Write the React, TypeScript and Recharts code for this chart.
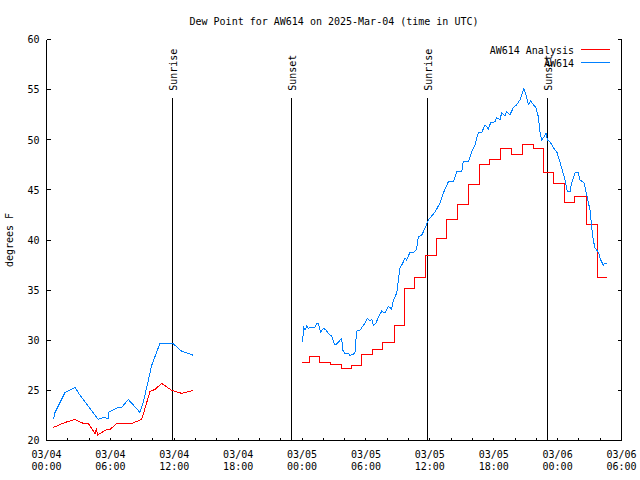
import React from 'react';
import { LineChart, Line, XAxis, YAxis, ReferenceLine, Legend } from 'recharts';

const chartTitle = 'Dew Point for AW614 on 2025-Mar-04 (time in UTC)';
const yAxisTitle = 'degrees F';
const analysisName = 'AW614 Analysis';
const observedName = 'AW614';
const legendOrder = [analysisName, observedName];

// x axis: hours since 03/04 00:00 UTC
const xTickHours = [0, 2, 4, 6, 8, 10, 12, 14, 16, 18, 20, 22, 24, 26, 28, 30, 32, 34, 36, 38, 40, 42, 44, 46, 48, 50, 52, 54];
const xLabelHours = [0, 6, 12, 18, 24, 30, 36, 42, 48, 54];
const xLabelDates = ['03/04', '03/04', '03/04', '03/04', '03/05', '03/05', '03/05', '03/05', '03/06', '03/06'];
const xLabelTimes = ['00:00', '06:00', '12:00', '18:00', '00:00', '06:00', '12:00', '18:00', '00:00', '06:00'];
const yTicks = [20, 25, 30, 35, 40, 45, 50, 55, 60];

const sunEventHours = [11.86, 23.05, 35.79, 47.07];
const sunEventLabels = ['Sunrise', 'Sunset', 'Sunrise', 'Sunset'];

// AW614 Analysis (red)
const analysisDay1Hours = [0.64, 1.74, 2.68, 3.46, 3.93, 4.56, 4.7, 4.78, 5.02, 5.65, 5.96, 6.59, 8.0, 8.94, 9.72, 10.19, 10.82, 11.76, 12.7, 13.79];
const analysisDay1Values = [21.3, 21.8, 22.1, 21.7, 21.7, 20.7, 21.2, 20.5, 20.7, 21.1, 21.1, 21.7, 21.7, 22.1, 24.9, 25.1, 25.7, 25.0, 24.7, 25.0];
const analysisDay2Hours = [24.02, 24.7, 25.64, 26.65, 27.66, 28.6, 29.6, 30.57, 31.6, 32.64, 33.64, 34.58, 35.58, 36.61, 37.61, 38.62, 39.61, 40.71, 41.62, 42.66, 43.65, 44.69, 45.72, 46.66, 47.66, 48.63, 49.63, 50.7, 51.73, 52.67];
const analysisDay2Values = [27.8, 28.4, 27.8, 27.6, 27.2, 27.5, 28.6, 29.1, 29.8, 31.5, 35.2, 36.3, 38.5, 40.1, 42.0, 43.5, 45.5, 47.5, 48.0, 49.1, 48.5, 49.5, 49.1, 46.7, 45.6, 43.7, 44.3, 41.5, 36.3, 36.3];

// AW614 observed (blue)
const observedDay1Hours = [0.64, 0.8, 1.74, 2.68, 3.15, 4.86, 5.33, 5.8, 5.82, 6.74, 7.06, 7.68, 8.78, 9.09, 9.88, 10.66, 11.85, 12.7, 13.79];
const observedDay1Values = [22.1, 22.8, 24.8, 25.3, 24.5, 22.1, 22.3, 22.2, 22.8, 23.3, 23.3, 24.1, 22.8, 23.8, 27.5, 29.7, 29.7, 28.9, 28.5];
const observedDay2Hours = [
  24.07, 24.12, 24.28, 24.44, 24.59, 24.81, 25.22, 25.38, 25.53, 25.75, 26.0, 26.25, 26.47, 26.78, 27.09, 27.4, 27.72, 27.82, 28.03, 28.34,
  28.5, 28.81, 28.97, 29.13, 29.44, 29.7, 29.91, 30.13, 30.38, 30.54, 30.69, 30.94, 31.16, 31.48, 31.79, 32.1, 32.42, 32.57, 32.89, 33.04,
  33.2, 33.51, 33.67, 33.83, 34.14, 34.39, 34.7, 34.82, 34.92, 35.24, 35.39, 35.71, 35.86, 36.49, 36.96, 37.27, 37.74, 38.2, 38.36, 38.52,
  38.99, 39.14, 39.61, 39.93, 40.24, 40.55, 40.87, 41.18, 41.49, 41.72, 42.12, 42.28, 42.59, 42.75, 43.06, 43.22, 43.53, 43.84, 44.16, 44.47,
  44.84, 45.03, 45.25, 45.47, 45.72, 45.97, 46.19, 46.35, 46.51, 46.72, 46.91, 47.03, 47.29, 47.6, 47.92, 48.16, 48.38, 48.69, 48.91, 49.16,
  49.32, 49.63, 49.94, 50.1, 50.48, 50.73, 51.04, 51.2, 51.35, 51.51, 51.82, 52.05, 52.29, 52.45, 52.67,
];
const observedDay2Values = [
  29.8, 31.4, 31.0, 31.4, 31.2, 31.3, 31.3, 31.7, 31.7, 30.8, 31.2, 31.0, 30.7, 30.4, 29.5, 29.8, 30.2, 29.0, 28.7, 28.7,
  28.5, 28.6, 28.8, 30.9, 31.0, 31.4, 31.7, 32.2, 31.9, 32.1, 31.5, 31.7, 32.3, 32.9, 32.7, 33.4, 33.1, 34.0, 34.7, 36.0,
  37.2, 37.8, 38.2, 38.0, 38.8, 38.7, 39.0, 39.5, 40.3, 40.5, 40.8, 41.6, 42.0, 42.8, 43.7, 44.7, 45.8, 45.8, 46.3, 46.8,
  46.8, 47.8, 47.8, 48.8, 49.5, 50.7, 50.7, 51.5, 51.1, 51.7, 51.8, 52.2, 52.0, 52.7, 52.4, 52.8, 52.5, 53.2, 53.5, 54.0,
  55.1, 54.5, 53.5, 53.9, 53.5, 53.2, 52.3, 50.7, 50.0, 50.3, 50.7, 50.0, 49.8, 49.2, 48.8, 48.0, 47.2, 46.0, 44.8, 44.8,
  45.7, 46.7, 46.7, 46.0, 45.7, 44.5, 43.0, 41.3, 40.0, 39.2, 38.8, 38.0, 37.5, 37.7, 37.7,
];

const toPoints = (hours: number[], values: number[]) => hours.map((h, i) => ({ h, v: values[i] }));

const analysisDay1 = toPoints(analysisDay1Hours, analysisDay1Values);
const analysisDay2 = toPoints(analysisDay2Hours, analysisDay2Values);
const observedDay1 = toPoints(observedDay1Hours, observedDay1Values);
const observedDay2 = toPoints(observedDay2Hours, observedDay2Values);

const FONT = "'DejaVu Sans Mono', 'Liberation Mono', monospace";
const RED = '#ff0000';
const BLUE = '#0080ff';
const SUN_LINE_TOP = 54.15;

const BottomTick = (props: any) => {
  const { x, y, payload } = props;
  const idx = xLabelHours.indexOf(payload.value);
  return (
    <g>
      <line x1={x} x2={x} y1={y} y2={y - 3} stroke="#000" strokeWidth={1} />
      {idx >= 0 && (
        <text x={x} y={y + 17} textAnchor="middle" fontFamily={FONT} fontSize={10} fill="#000">
          <tspan x={x} y={y + 17}>{xLabelDates[idx]}</tspan>
          <tspan x={x} y={y + 29.5}>{xLabelTimes[idx]}</tspan>
        </text>
      )}
    </g>
  );
};

const TopTick = (props: any) => {
  const { x, y } = props;
  return <line x1={x} x2={x} y1={y} y2={y + 3} stroke="#000" strokeWidth={1} />;
};

const LeftTick = (props: any) => {
  const { x, y, payload } = props;
  return (
    <g>
      <line x1={x} x2={x + 4} y1={y} y2={y} stroke="#000" strokeWidth={1} />
      <text x={x - 7} y={y + 3.8} textAnchor="end" fontFamily={FONT} fontSize={10} fill="#000">
        {payload.value}
      </text>
    </g>
  );
};

const RightTick = (props: any) => {
  const { x, y } = props;
  return <line x1={x} x2={x - 4} y1={y} y2={y} stroke="#000" strokeWidth={1} />;
};

const SunLabel = (props: any) => {
  const { viewBox, text } = props;
  if (!viewBox) return null;
  const tx = viewBox.x + 4.5;
  const ty = viewBox.y - 7.3;
  return (
    <text x={tx} y={ty} transform={`rotate(-90, ${tx}, ${ty})`} textAnchor="start" fontFamily={FONT} fontSize={10} fill="#000">
      {text}
    </text>
  );
};

const Overlay = (props: any) => {
  const items = (props.payload || [])
    .filter((p: any) => p.type !== 'none' && legendOrder.indexOf(p.value) >= 0)
    .sort((a: any, b: any) => legendOrder.indexOf(a.value) - legendOrder.indexOf(b.value));
  return (
    <svg width={640} height={480} style={{ position: 'absolute', left: 0, top: 0, overflow: 'visible' }}>
      <text x={334} y={24.5} textAnchor="middle" fontFamily={FONT} fontSize={10} fill="#000">
        {chartTitle}
      </text>
      <text x={12.5} y={240} transform="rotate(-90, 12.5, 240)" textAnchor="middle" fontFamily={FONT} fontSize={10} fill="#000">
        {yAxisTitle}
      </text>
      {items.map((item: any, i: number) => (
        <g key={item.value}>
          <text x={574} y={54 + 13 * i} textAnchor="end" fontFamily={FONT} fontSize={10} fill="#000">
            {item.value}
          </text>
          <line x1={581} x2={610} y1={49.5 + 13 * i} y2={49.5 + 13 * i} stroke={item.color} strokeWidth={1} />
        </g>
      ))}
    </svg>
  );
};

export default function App() {
  return (
    <div style={{ position: 'absolute', left: 0, top: 0, width: 640, height: 480, background: '#fff' }}>
      <style>{`.recharts-wrapper path, .recharts-wrapper line { shape-rendering: crispEdges; }`}</style>
      <LineChart width={640} height={480} margin={{ top: 39.5, right: 0, bottom: 0, left: 0 }}>
        <XAxis
          type="number"
          dataKey="h"
          domain={[0, 54]}
          ticks={xTickHours}
          interval={0}
          height={39.5}
          tickSize={0}
          tickMargin={0}
          tickLine={false}
          axisLine={{ stroke: '#000' }}
          tick={<BottomTick />}
          allowDataOverflow
        />
        <XAxis
          xAxisId="top"
          orientation="top"
          type="number"
          dataKey="h"
          domain={[0, 54]}
          ticks={xTickHours}
          interval={0}
          height={0}
          tickSize={0}
          tickMargin={0}
          tickLine={false}
          axisLine={{ stroke: '#000' }}
          tick={<TopTick />}
          allowDataOverflow
        />
        <YAxis
          type="number"
          domain={[20, 60]}
          ticks={yTicks}
          interval={0}
          width={46.5}
          tickSize={0}
          tickMargin={0}
          tickLine={false}
          axisLine={{ stroke: '#000' }}
          tick={<LeftTick />}
          allowDataOverflow
        />
        <YAxis
          yAxisId="right"
          orientation="right"
          type="number"
          domain={[20, 60]}
          ticks={yTicks}
          interval={0}
          width={18.5}
          tickSize={0}
          tickMargin={0}
          tickLine={false}
          axisLine={{ stroke: '#000' }}
          tick={<RightTick />}
          allowDataOverflow
        />
        {sunEventHours.map((t, i) => (
          <ReferenceLine
            key={`sun-${i}`}
            segment={[{ x: t, y: 20 }, { x: t, y: SUN_LINE_TOP }]}
            stroke="#000"
            strokeWidth={1}
            label={<SunLabel text={sunEventLabels[i]} />}
          />
        ))}
        <Line data={analysisDay1} dataKey="v" type="linear" stroke={RED} strokeWidth={1} dot={false} activeDot={false} isAnimationActive={false} name={analysisName} />
        <Line data={analysisDay2} dataKey="v" type="stepAfter" stroke={RED} strokeWidth={1} dot={false} activeDot={false} isAnimationActive={false} name={analysisName + ' '} legendType="none" />
        <Line data={observedDay1} dataKey="v" type="linear" stroke={BLUE} strokeWidth={1} dot={false} activeDot={false} isAnimationActive={false} name={observedName} />
        <Line data={observedDay2} dataKey="v" type="linear" stroke={BLUE} strokeWidth={1} dot={false} activeDot={false} isAnimationActive={false} name={observedName + ' '} legendType="none" />
        <Legend
          layout="horizontal"
          verticalAlign="middle"
          align="center"
          wrapperStyle={{ position: 'absolute', left: 0, top: 0, width: 640, height: 480, margin: 0, pointerEvents: 'none' }}
          content={(p: any) => <Overlay {...p} />}
        />
      </LineChart>
    </div>
  );
}
